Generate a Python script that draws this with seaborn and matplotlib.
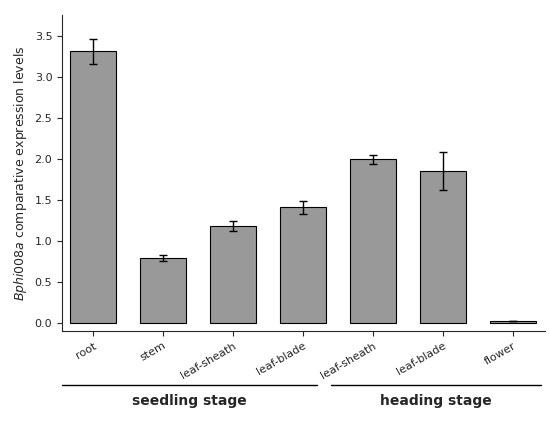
import matplotlib
matplotlib.use("Agg")
import matplotlib.pyplot as plt
import seaborn as sns
import pandas as pd
import numpy as np

labels = ["root", "stem", "leaf-sheath", "leaf-blade", "leaf-sheath", "leaf-blade", "flower"]
values = [3.31, 0.79, 1.18, 1.41, 1.99, 1.85, 0.02]
errors = [0.15, 0.04, 0.06, 0.08, 0.05, 0.23, 0.0]
groups = ["seedling stage", "heading stage"]

sns.set_style("ticks")
plt.rcParams['font.family'] = ['DejaVu Sans']
fig = plt.figure(figsize=(5.49, 4.21), dpi=100)
ax = fig.add_axes([0.113, 0.214, 0.88, 0.75])
df = pd.DataFrame({"pos": [str(i) for i in range(len(labels))], "val": values})
sns.barplot(data=df, x="pos", y="val", color="#999999", edgecolor="black", linewidth=0.8,
            width=0.66, saturation=1, ax=ax)
ax.errorbar(range(len(labels)), values, yerr=errors, fmt="none", ecolor="black",
            elinewidth=1, capsize=3)
ax.set_xlim(-0.44, 6.46)
ax.set_ylim(-0.1, 3.75)
ax.set_yticks(np.arange(0, 3.51, 0.5))
ax.set_yticklabels([f"{v:.1f}" for v in np.arange(0, 3.51, 0.5)], fontsize=8)
ax.set_xticks(range(len(labels)))
ax.set_xticklabels(labels, rotation=30, ha="right", rotation_mode="anchor", fontsize=8)
ax.set_xlabel("")
ax.set_ylabel(r"$\it{Bphi008a}$ comparative expression levels", fontsize=9)
for s in ["top", "right"]:
    ax.spines[s].set_visible(False)
trans = ax.get_xaxis_transform()
for (x0, x1), g in zip([(-0.44, 3.2), (3.4, 6.4)], groups):
    ax.plot([x0, x1], [-0.17, -0.17], color="black", lw=1, transform=trans, clip_on=False)
    ax.text((x0 + x1) / 2, -0.2, g, transform=trans, ha="center", va="top",
            fontsize=10, fontweight="bold")
fig.savefig("out.png", dpi=100)
